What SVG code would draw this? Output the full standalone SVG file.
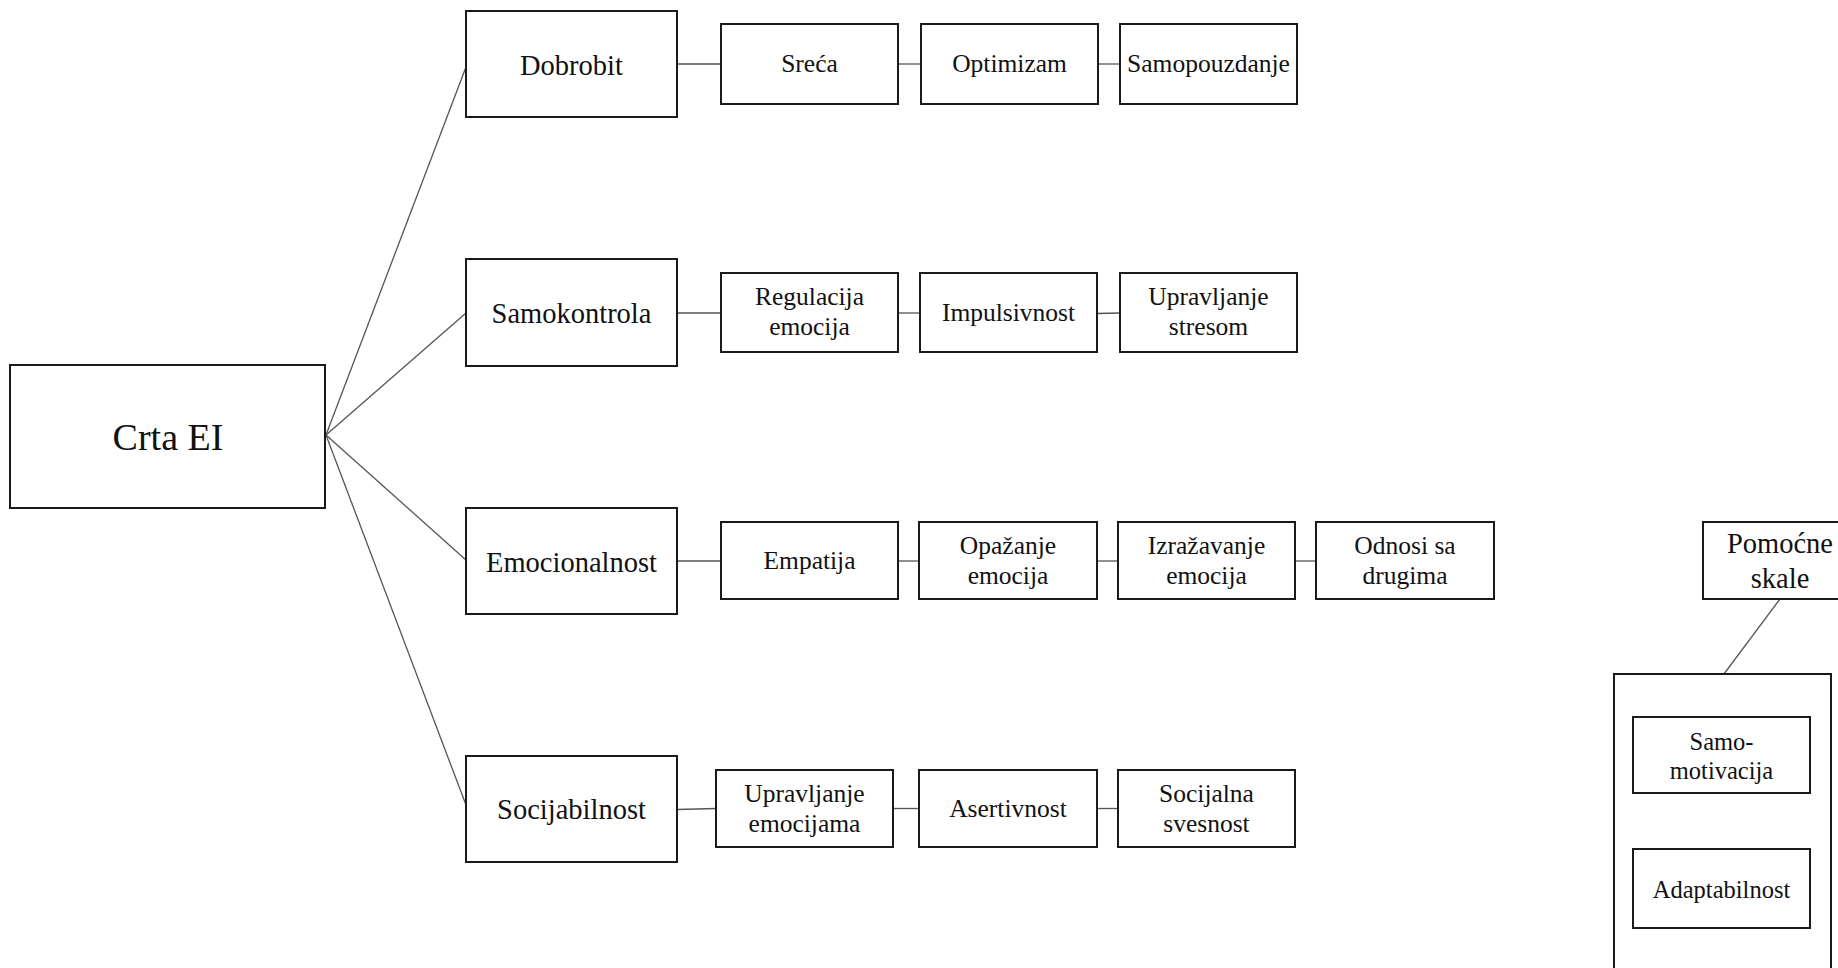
<svg xmlns="http://www.w3.org/2000/svg" width="1838" height="968" viewBox="0 0 1838 968">
<style>
.box{fill:#fff;stroke:#1a1a1a;stroke-width:2}
.con{stroke:#555;stroke-width:1.3;fill:none}
text{font-family:"Liberation Serif","Times New Roman",serif;fill:#111;text-anchor:middle}
.t1{font-size:38px}
.t2{font-size:28.5px}
.t3{font-size:25.5px}
.t4{font-size:28.5px}
.t5{font-size:24.5px}
</style>
<rect width="1838" height="968" fill="#fff"/>
<g id="connectors">
<line class="con" x1="326" y1="435" x2="466" y2="67"/>
<line class="con" x1="326" y1="435" x2="466" y2="313"/>
<line class="con" x1="326" y1="435" x2="466" y2="560"/>
<line class="con" x1="326" y1="435" x2="466" y2="805"/>
<line class="con" x1="677" y1="64" x2="721" y2="64"/>
<line class="con" x1="898" y1="64" x2="921" y2="64"/>
<line class="con" x1="1098" y1="64" x2="1120" y2="64"/>
<line class="con" x1="677" y1="313" x2="721" y2="313"/>
<line class="con" x1="898" y1="313" x2="920" y2="313"/>
<line class="con" x1="1097" y1="313.5" x2="1120" y2="313"/>
<line class="con" x1="677" y1="561" x2="721" y2="561"/>
<line class="con" x1="898" y1="561" x2="919" y2="561"/>
<line class="con" x1="1097" y1="561" x2="1118" y2="561"/>
<line class="con" x1="1295" y1="561" x2="1316" y2="561"/>
<line class="con" x1="677" y1="809.5" x2="716" y2="808.5"/>
<line class="con" x1="893" y1="808.5" x2="919" y2="808.5"/>
<line class="con" x1="1097" y1="808.5" x2="1118" y2="808.5"/>
<line class="con" x1="1780" y1="599" x2="1724" y2="674"/>
</g>
<g id="crta-ei"><rect class="box" x="10" y="365" width="315" height="143"/><text class="t1" x="168" y="450">Crta EI</text></g>
<g id="dobrobit"><rect class="box" x="466" y="11" width="211" height="106"/><text class="t2" x="571.5" y="74.5">Dobrobit</text></g>
<g id="samokontrola"><rect class="box" x="466" y="259" width="211" height="107"/><text class="t2" x="571.5" y="323">Samokontrola</text></g>
<g id="emocionalnost"><rect class="box" x="466" y="508" width="211" height="106"/><text class="t2" x="571.5" y="571.5">Emocionalnost</text></g>
<g id="socijabilnost"><rect class="box" x="466" y="756" width="211" height="106"/><text class="t2" x="571.5" y="819">Socijabilnost</text></g>
<g id="sreca"><rect class="box" x="721" y="24" width="177" height="80"/><text class="t3" x="809.5" y="72">Sreća</text></g>
<g id="optimizam"><rect class="box" x="921" y="24" width="177" height="80"/><text class="t3" x="1009.5" y="72">Optimizam</text></g>
<g id="samopouzdanje"><rect class="box" x="1120" y="24" width="177" height="80"/><text class="t3" x="1208.5" y="72">Samopouzdanje</text></g>
<g id="regulacija"><rect class="box" x="721" y="273" width="177" height="79"/><text class="t3" x="809.5" y="305">Regulacija</text><text class="t3" x="809.5" y="335">emocija</text></g>
<g id="impulsivnost"><rect class="box" x="920" y="273" width="177" height="79"/><text class="t3" x="1008.5" y="320.5">Impulsivnost</text></g>
<g id="upravljanje-stresom"><rect class="box" x="1120" y="273" width="177" height="79"/><text class="t3" x="1208.5" y="305">Upravljanje</text><text class="t3" x="1208.5" y="335">stresom</text></g>
<g id="empatija"><rect class="box" x="721" y="522" width="177" height="77"/><text class="t3" x="809.5" y="569">Empatija</text></g>
<g id="opazanje"><rect class="box" x="919" y="522" width="178" height="77"/><text class="t3" x="1008" y="554">Opažanje</text><text class="t3" x="1008" y="584">emocija</text></g>
<g id="izrazavanje"><rect class="box" x="1118" y="522" width="177" height="77"/><text class="t3" x="1206.5" y="554">Izražavanje</text><text class="t3" x="1206.5" y="584">emocija</text></g>
<g id="odnosi"><rect class="box" x="1316" y="522" width="178" height="77"/><text class="t3" x="1405" y="554">Odnosi sa</text><text class="t3" x="1405" y="584">drugima</text></g>
<g id="upravljanje-emocijama"><rect class="box" x="716" y="770" width="177" height="77"/><text class="t3" x="804.5" y="801.5">Upravljanje</text><text class="t3" x="804.5" y="831.5">emocijama</text></g>
<g id="asertivnost"><rect class="box" x="919" y="770" width="178" height="77"/><text class="t3" x="1008" y="816.5">Asertivnost</text></g>
<g id="socijalna-svesnost"><rect class="box" x="1118" y="770" width="177" height="77"/><text class="t3" x="1206.5" y="801.5">Socijalna</text><text class="t3" x="1206.5" y="831.5">svesnost</text></g>
<g id="pomocne-skale"><rect class="box" x="1703" y="522" width="160" height="77"/><text class="t4" x="1780" y="553">Pomoćne</text><text class="t4" x="1780" y="588">skale</text></g>
<g id="pomocne-group"><rect class="box" x="1614" y="674" width="217" height="310"/></g>
<g id="samomotivacija"><rect class="box" x="1633" y="717" width="177" height="76"/><text class="t5" x="1721.5" y="750">Samo-</text><text class="t5" x="1721.5" y="779">motivacija</text></g>
<g id="adaptabilnost"><rect class="box" x="1633" y="849" width="177" height="79"/><text class="t5" x="1721.5" y="898">Adaptabilnost</text></g>
</svg>
